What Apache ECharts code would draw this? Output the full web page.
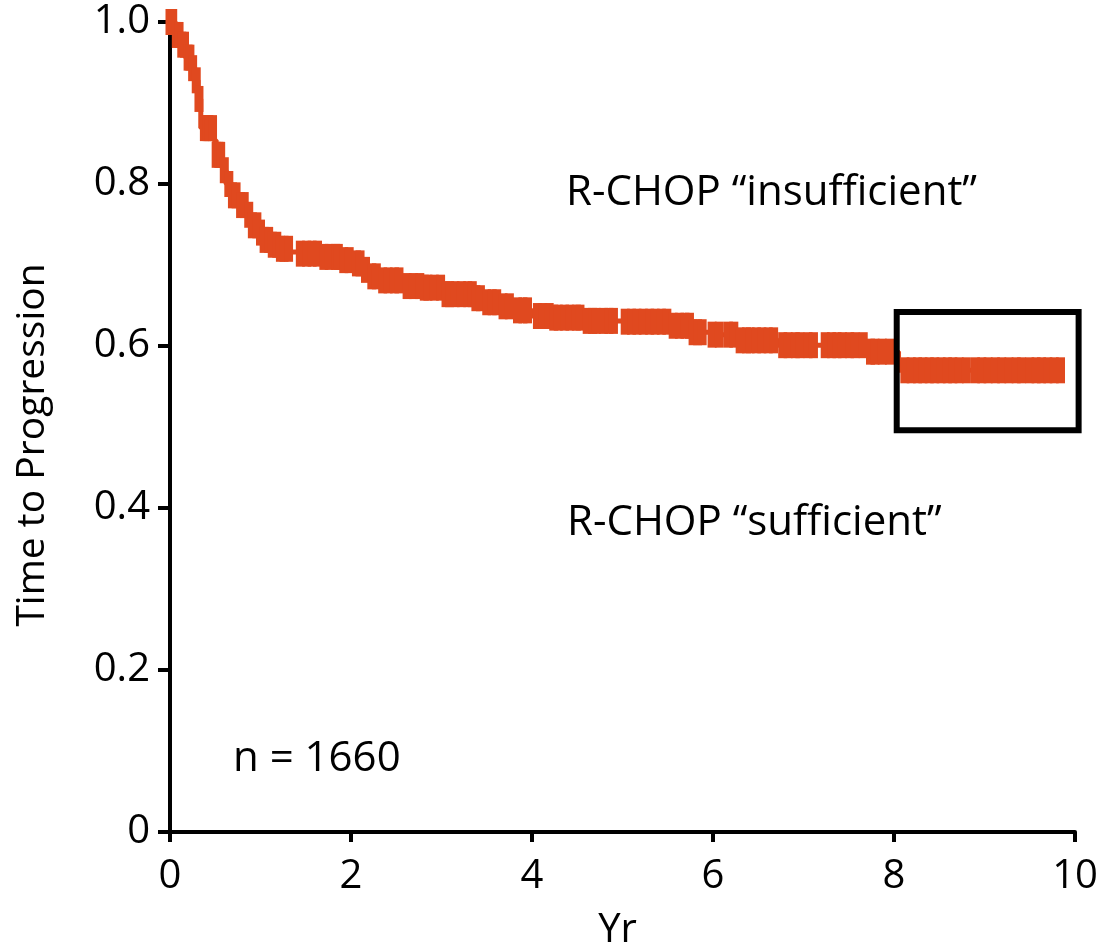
<!DOCTYPE html>
<html>
<head>
<meta charset="utf-8">
<script src="https://cdn.jsdelivr.net/npm/echarts@6/dist/echarts.min.js"></script>
<style>
html,body{margin:0;padding:0;background:#fff;}
#chart{width:1100px;height:946px;}
</style>
</head>
<body>
<div id="chart"></div>
<script>
// Kaplan-Meier step curve (time in years, survival fraction after each step)
const stepTimes = [0, 0.06, 0.12, 0.17, 0.23, 0.28, 0.31, 0.34, 0.48, 0.51, 0.58, 0.62, 0.69, 0.78, 0.84, 0.91, 0.98, 1.04, 1.13, 1.22, 1.33, 1.44, 1.66, 1.88, 2.02, 2.13, 2.19, 2.32, 2.57, 2.77, 3.05, 3.38, 3.45, 3.63, 3.78, 4.0, 4.2, 4.57, 4.98, 5.53, 5.75, 5.99, 6.30, 6.72, 7.74, 8.05, 9.86];
const stepSurv  = [1.0, 0.984, 0.972, 0.956, 0.943, 0.928, 0.905, 0.869, 0.854, 0.836, 0.817, 0.80, 0.786, 0.774, 0.762, 0.749, 0.74, 0.731, 0.725, 0.72, 0.716, 0.714, 0.71, 0.706, 0.702, 0.694, 0.686, 0.681, 0.674, 0.672, 0.664, 0.659, 0.654, 0.649, 0.644, 0.637, 0.635, 0.631, 0.630, 0.625, 0.617, 0.614, 0.607, 0.601, 0.593, 0.570, 0.570];

// Censoring times (years)
const censorTimes = [0.00, 0.03, 0.07, 0.10, 0.13, 0.16, 0.20, 0.22, 0.25, 0.29, 0.32, 0.38, 0.41, 0.43, 0.47, 0.51, 0.54, 0.56, 0.60, 0.65, 0.69, 0.73, 0.78, 0.82, 0.87, 0.91, 0.96, 1.00, 1.04, 1.09, 1.13, 1.18, 1.22, 1.26, 1.31, 1.44, 1.51, 1.57, 1.63, 1.70, 1.76, 1.83, 1.86, 1.92, 1.98, 2.06, 2.10, 2.16, 2.23, 2.28, 2.35, 2.41, 2.48, 2.53, 2.62, 2.69, 2.76, 2.81, 2.85, 2.92, 2.99, 3.05, 3.09, 3.15, 3.22, 3.29, 3.34, 3.38, 3.43, 3.50, 3.56, 3.61, 3.68, 3.75, 3.84, 3.90, 3.95, 4.06, 4.12, 4.19, 4.24, 4.29, 4.36, 4.42, 4.49, 4.53, 4.61, 4.67, 4.71, 4.79, 4.85, 4.90, 5.03, 5.10, 5.16, 5.23, 5.30, 5.36, 5.43, 5.49, 5.56, 5.63, 5.69, 5.74, 5.78, 5.83, 5.88, 5.99, 6.07, 6.17, 6.23, 6.30, 6.37, 6.41, 6.48, 6.54, 6.61, 6.67, 6.77, 6.83, 6.91, 6.96, 7.05, 7.11, 7.24, 7.31, 7.37, 7.43, 7.51, 7.57, 7.66, 7.74, 7.79, 7.87, 7.95, 8.12, 8.19, 8.26, 8.32, 8.39, 8.45, 8.52, 8.59, 8.65, 8.72, 8.80, 8.90, 8.97, 9.04, 9.12, 9.19, 9.27, 9.35, 9.41, 9.50, 9.57, 9.63, 9.70, 9.77, 9.84];

const xTicks = [0, 2, 4, 6, 8, 10];
const yTicks = [0, 0.2, 0.4, 0.6, 0.8, 1.0];
const yTickLabels = ['0', '0.2', '0.4', '0.6', '0.8', '1.0'];

const annotations = [
  {text: 'R-CHOP \u201cinsufficient\u201d', x: 566, y: 193},
  {text: 'R-CHOP \u201csufficient\u201d', x: 567, y: 523},
  {text: 'n = 1660', x: 233, y: 759}
];
const yTitle = 'Time to Progression';
const boxCorners = [[8.03, 0.642], [10.04, 0.496]];

const COLOR = '#E0491F';
const FONT = 'Open Sans';

function survAt(t) {
  let s = stepSurv[0];
  for (let i = 0; i < stepTimes.length; i++) {
    if (stepTimes[i] <= t) s = stepSurv[i]; else break;
  }
  return s;
}

const curveData = stepTimes.map((t, i) => [t, stepSurv[i]]);
const censorData = censorTimes.map(t => [t, survAt(t)]);

const chart = echarts.init(document.getElementById('chart'), null, {renderer: 'canvas'});

const option = {
  backgroundColor: '#fff',
  animation: false,
  grid: {left: 170, right: 25, top: 22, bottom: 114, containLabel: false, outerBoundsMode: 'none'},
  xAxis: {
    type: 'value', min: 0, max: 10, interval: 2,
    name: 'Yr', nameLocation: 'middle', nameGap: 79,
    nameTextStyle: {fontFamily: FONT, fontSize: 40, color: '#000', padding: [0, 10, 0, 0]},
    axisLine: {show: true, lineStyle: {color: '#000', width: 4}},
    axisTick: {show: true, length: 10, lineStyle: {color: '#000', width: 4}},
    axisLabel: {fontFamily: FONT, fontSize: 40, color: '#000', margin: 25,
      formatter: v => xTicks.includes(v) ? String(v) : ''},
    splitLine: {show: false}
  },
  yAxis: {
    type: 'value', min: 0, max: 1, interval: 0.2,
    axisLine: {show: true, lineStyle: {color: '#000', width: 4}},
    axisTick: {show: true, length: 12, lineStyle: {color: '#000', width: 4}},
    axisLabel: {fontFamily: FONT, fontSize: 40, color: '#000', margin: 20,
      formatter: v => {
        const i = yTicks.findIndex(y => Math.abs(y - v) < 1e-6);
        return i >= 0 ? yTickLabels[i] : '';
      }},
    splitLine: {show: false}
  },
  series: [
    {
      type: 'line', data: curveData, step: 'end', showSymbol: false,
      lineStyle: {color: COLOR, width: 5}, clip: false, z: 3
    },
    {
      type: 'scatter', data: censorData, symbol: 'rect', symbolSize: [9, 26],
      itemStyle: {color: COLOR, opacity: 1}, clip: false, z: 4
    }
  ]
};
chart.setOption(option);

const p1 = chart.convertToPixel({gridIndex: 0}, boxCorners[0]);
const p2 = chart.convertToPixel({gridIndex: 0}, boxCorners[1]);

const graphics = annotations.map(a => ({
  type: 'text', x: a.x, y: a.y,
  style: {text: a.text, fontFamily: FONT, fontSize: 42, fill: '#000', align: 'left', verticalAlign: 'middle'},
  z: 10
}));
graphics.push({
  type: 'text', x: 33, y: 445, rotation: Math.PI / 2,
  style: {text: yTitle, fontFamily: FONT, fontSize: 39, fill: '#000', align: 'center', verticalAlign: 'middle'},
  z: 10
});
graphics.push({
  type: 'rect',
  shape: {x: p1[0], y: p1[1], width: p2[0] - p1[0], height: p2[1] - p1[1]},
  style: {fill: 'none', stroke: '#000', lineWidth: 6},
  z: 10
});
chart.setOption({graphic: graphics});
</script>
</body>
</html>
